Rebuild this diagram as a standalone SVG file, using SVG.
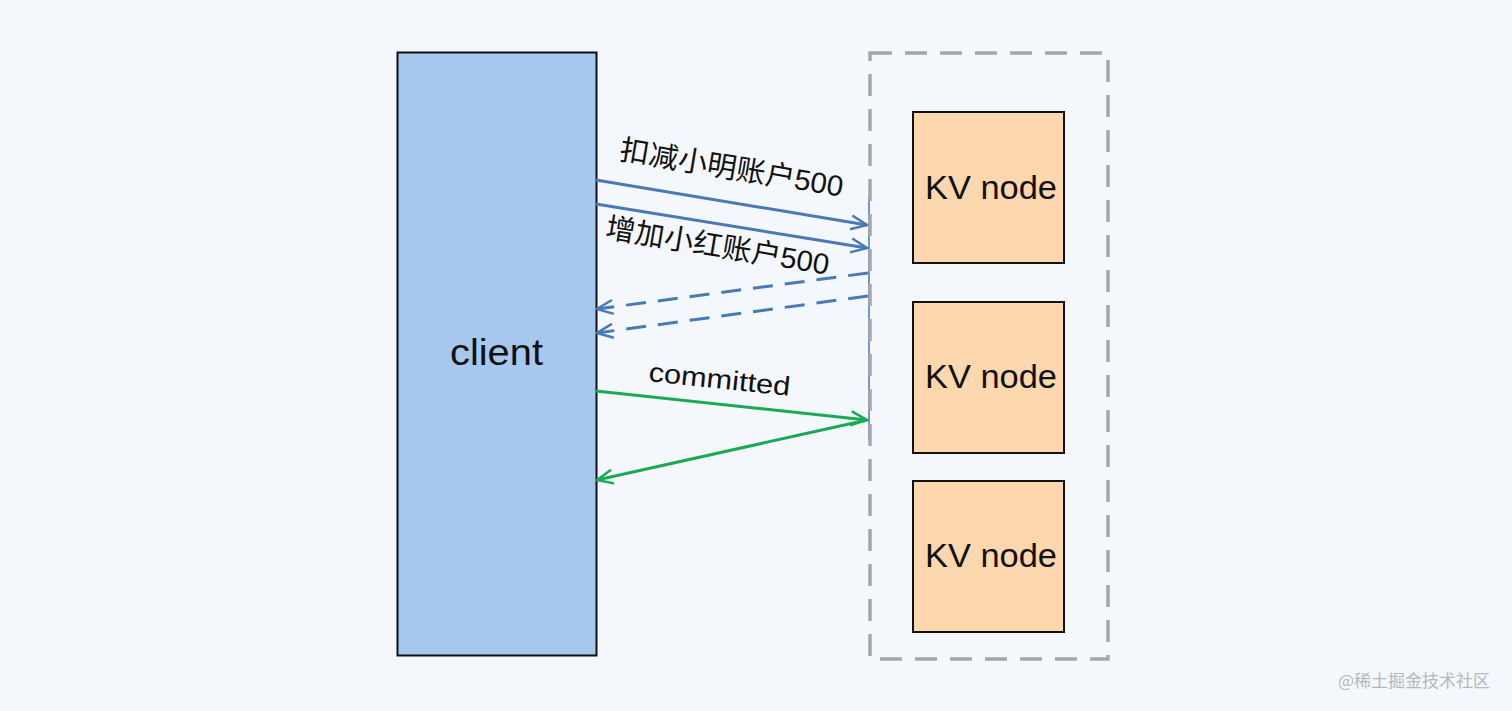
<svg xmlns="http://www.w3.org/2000/svg" width="1512" height="711" viewBox="0 0 1512 711">
<defs>
<style>
.lbl{font-family:"Liberation Sans","Noto Sans CJK SC",sans-serif;fill:#111;}
.kv rect{fill:#fdd7ae;stroke:#111;stroke-width:2;}
.blue{stroke:#4a7ab5;stroke-width:3;fill:none;}
.green{stroke:#1aaa55;stroke-width:3;fill:none;}
</style>
<marker id="ab" viewBox="0 0 20 20" refX="18" refY="10" markerWidth="20" markerHeight="20" markerUnits="userSpaceOnUse" orient="auto"><path d="M2,3 L18,10 L2,17" fill="none" stroke="#4a7ab5" stroke-width="2.5"/></marker>
<marker id="ag" viewBox="0 0 20 20" refX="18" refY="10" markerWidth="20" markerHeight="20" markerUnits="userSpaceOnUse" orient="auto"><path d="M2,3 L18,10 L2,17" fill="none" stroke="#1aaa55" stroke-width="2.5"/></marker>
</defs>
<rect width="1512" height="711" fill="#f4f7fc"/>
<g id="client">
<rect x="397.5" y="52.5" width="199" height="603" fill="#a7c8ee" stroke="#111" stroke-width="2"/>
<text class="lbl" x="450" y="365" font-size="36" textLength="93" lengthAdjust="spacingAndGlyphs">client</text>
</g>
<g id="connectors">
<line x1="869" y1="198" x2="869" y2="440" stroke="#4a7ab5" stroke-width="1.5"/>
<line class="blue" x1="596" y1="180" x2="867" y2="225" marker-end="url(#ab)"/>
<line class="blue" x1="596" y1="204" x2="867" y2="248" marker-end="url(#ab)"/>
<line class="blue" x1="868" y1="273" x2="597" y2="309" stroke-dasharray="20,12" marker-end="url(#ab)"/>
<line class="blue" x1="868" y1="296" x2="597" y2="333" stroke-dasharray="20,12" marker-end="url(#ab)"/>
<line class="green" x1="596" y1="391" x2="867" y2="420" marker-end="url(#ag)"/>
<line class="green" x1="867" y1="420" x2="597" y2="480" marker-end="url(#ag)"/>
<text class="lbl" font-size="29" text-anchor="middle" transform="translate(730,178) rotate(9.5)" textLength="226" lengthAdjust="spacingAndGlyphs">扣减小明账户500</text>
<text class="lbl" font-size="29" text-anchor="middle" transform="translate(716,256) rotate(9.5)" textLength="226" lengthAdjust="spacingAndGlyphs">增加小红账户500</text>
<text class="lbl" font-size="27" transform="translate(648,381) rotate(6)" textLength="142" lengthAdjust="spacingAndGlyphs">committed</text>
</g>
<g id="cluster">
<rect x="870" y="53" width="238" height="606" fill="none" stroke="#a6a6a6" stroke-width="3.5" stroke-dasharray="22,13"/>
</g>
<g id="kv1" class="kv">
<rect x="913" y="112" width="151" height="151"/>
<text class="lbl" x="925" y="199" font-size="33" textLength="132" lengthAdjust="spacingAndGlyphs">KV node</text>
</g>
<g id="kv2" class="kv">
<rect x="913" y="302" width="151" height="151"/>
<text class="lbl" x="925" y="388" font-size="33" textLength="132" lengthAdjust="spacingAndGlyphs">KV node</text>
</g>
<g id="kv3" class="kv">
<rect x="913" y="481" width="151" height="151"/>
<text class="lbl" x="925" y="567" font-size="33" textLength="132" lengthAdjust="spacingAndGlyphs">KV node</text>
</g>
<text x="1490" y="687" font-family="'Noto Sans CJK SC',sans-serif" font-size="17" fill="#b4b8bf" text-anchor="end">@稀土掘金技术社区</text>
</svg>
